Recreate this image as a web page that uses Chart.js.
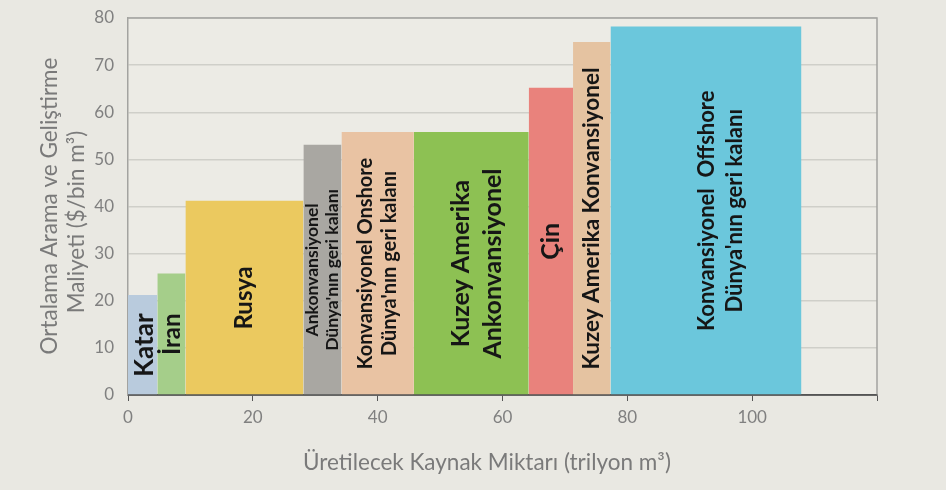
<!DOCTYPE html>
<html>
<head>
<meta charset="utf-8">
<script src="https://cdn.jsdelivr.net/npm/chart.js@4.4.0/dist/chart.umd.min.js"></script>
<style>
  html, body { margin: 0; padding: 0; background: #e9e8e2; }
  canvas { display: block; }
</style>
</head>
<body>
<canvas id="chart" width="946" height="490"></canvas>
<script>
// Segments of the cost curve, left to right (label lines)
const categories = [
    ['Katar'],
    ['İran'],
    ['Rusya'],
    ['Ankonvansiyonel', "Dünya'nın geri kalanı"],
    ['Konvansiyonel Onshore', "Dünya'nın geri kalanı"],
    ['Kuzey Amerika', 'Ankonvansiyonel'],
    ['Çin'],
    ['Kuzey Amerika Konvansiyonel'],
    ['Konvansiyonel  Offshore', "Dünya'nın geri kalanı"]
];
// resource amount of each segment (trilyon m3)
const amounts = [4.7, 4.5, 18.9, 6.1, 11.6, 18.4, 7.1, 6.0, 30.6];
// average exploration & development cost ($/bin m3)
const costs = [21.2, 25.8, 41.2, 53.1, 55.8, 55.8, 65.2, 74.9, 78.2];
const xTicks = [0, 20, 40, 60, 80, 100];
const yTicks = [0, 10, 20, 30, 40, 50, 60, 70, 80];
const xTitle = 'Üretilecek Kaynak Miktarı (trilyon m³)';
const yTitle = ['Ortalama Arama ve Geliştirme', 'Maliyeti ($/bin m³)'];

const colors = ['#b9cbdd', '#a5ce8a', '#ebc95f', '#a9a7a2', '#e9c3a3',
                '#8dc153', '#e9827c', '#e5c3a1', '#6bc7dc'];
const labelSizes = [26, 24, 24, 17.5, 20, 25, 25, 22.5, 22];
const labelLeading = [1.2, 1.2, 1.2, 1.15, 1.22, 1.28, 1.2, 1.2, 1.28];
const labelNudge = [2, 1, 0, 0, 0, 6, 0, 0, 15];

const FONT = 'Lato, "Open Sans", sans-serif';
Chart.defaults.font.family = FONT;

// build one filled step per segment
let start = 0;
const datasets = categories.map((cat, i) => {
    const x0 = start;
    const x1 = start + amounts[i];
    start = x1;
    return {
        label: cat.join(' '),
        data: [{ x: x0, y: costs[i] }, { x: x1, y: costs[i] }],
        fill: 'origin',
        backgroundColor: colors[i],
        borderColor: colors[i],
        borderWidth: 0,
        pointRadius: 0,
        tension: 0
    };
});

// background, plot area, frame lines and axis titles
const framePlugin = {
    id: 'frame',
    beforeDraw(chart) {
        const { ctx, chartArea: a } = chart;
        ctx.save();
        ctx.fillStyle = '#e9e8e2';
        ctx.fillRect(0, 0, chart.width, chart.height);
        ctx.fillStyle = '#ecebe5';
        ctx.fillRect(a.left, a.top, a.right - a.left, a.bottom - a.top);
        ctx.restore();
    },
    afterDatasetsDraw(chart) {
        const { ctx, chartArea: a } = chart;
        ctx.save();
        ctx.strokeStyle = '#a3a3a0';
        ctx.lineWidth = 1.5;
        ctx.beginPath();
        ctx.moveTo(a.left, a.top);
        ctx.lineTo(a.right, a.top);
        ctx.lineTo(a.right, a.bottom);
        ctx.stroke();
        // x axis line stays visible under the segments
        ctx.strokeStyle = '#555555';
        ctx.beginPath();
        ctx.moveTo(a.left, a.bottom);
        ctx.lineTo(a.right, a.bottom);
        ctx.stroke();

        ctx.fillStyle = '#7a7a7a';
        ctx.textAlign = 'center';
        ctx.textBaseline = 'middle';
        ctx.font = '22.5px ' + FONT;
        ctx.fillText(xTitle, 487, 463);

        ctx.font = '22.5px ' + FONT;
        [[50, 206], [77, 222]].forEach((p, k) => {
            ctx.save();
            ctx.translate(p[0], p[1]);
            ctx.rotate(-Math.PI / 2);
            ctx.fillText(yTitle[k], 0, 0);
            ctx.restore();
        });
        ctx.restore();
    }
};

// rotated labels inside each segment
const labelPlugin = {
    id: 'segmentLabels',
    afterDatasetsDraw(chart) {
        const { ctx } = chart;
        const xs = chart.scales.x, ys = chart.scales.y;
        let s = 0;
        categories.forEach((lines, i) => {
            const cx = xs.getPixelForValue(s + amounts[i] / 2) + labelNudge[i];
            const cy = ys.getPixelForValue(costs[i] / 2);
            s += amounts[i];
            const size = labelSizes[i];
            const lh = size * labelLeading[i];
            ctx.save();
            ctx.translate(cx, cy);
            ctx.rotate(-Math.PI / 2);
            ctx.font = 'bold ' + size + 'px ' + FONT;
            ctx.fillStyle = '#161616';
            ctx.textAlign = 'center';
            ctx.textBaseline = 'middle';
            lines.forEach((t, k) => {
                ctx.fillText(t, 0, (k - (lines.length - 1) / 2) * lh);
            });
            ctx.restore();
        });
    }
};

new Chart(document.getElementById('chart'), {
    type: 'line',
    data: { datasets: datasets },
    options: {
        responsive: false,
        animation: false,
        layout: { padding: { top: 18, right: 69, left: 0, bottom: 0 } },
        plugins: {
            legend: { display: false },
            tooltip: { enabled: false }
        },
        scales: {
            x: {
                type: 'linear',
                min: 0,
                max: 120,
                afterBuildTicks: scale => {
                    scale.ticks = xTicks.concat([120]).map(v => ({ value: v }));
                },
                afterFit: scale => {
                    scale.height = 95;
                    scale.paddingRight = 0;
                    scale.paddingLeft = 0;
                },
                ticks: {
                    color: '#808080',
                    font: { size: 17 },
                    padding: 6,
                    maxRotation: 0,
                    callback: v => (xTicks.includes(v) ? v : '')
                },
                grid: {
                    drawOnChartArea: false,
                    drawTicks: true,
                    tickLength: 6,
                    tickColor: '#555555'
                },
                border: { color: '#555555', width: 1.5 }
            },
            y: {
                min: 0,
                max: 80,
                afterBuildTicks: scale => {
                    scale.ticks = yTicks.map(v => ({ value: v }));
                },
                afterFit: scale => {
                    scale.width = 128;
                    scale.paddingTop = 0;
                    scale.paddingBottom = 0;
                },
                ticks: {
                    color: '#808080',
                    font: { size: 17 },
                    padding: 14
                },
                grid: {
                    color: '#cfcfc9',
                    lineWidth: 1.5,
                    drawTicks: false
                },
                border: { color: '#a3a3a0', width: 1.5 }
            }
        }
    },
    plugins: [framePlugin, labelPlugin]
});
</script>
</body>
</html>
